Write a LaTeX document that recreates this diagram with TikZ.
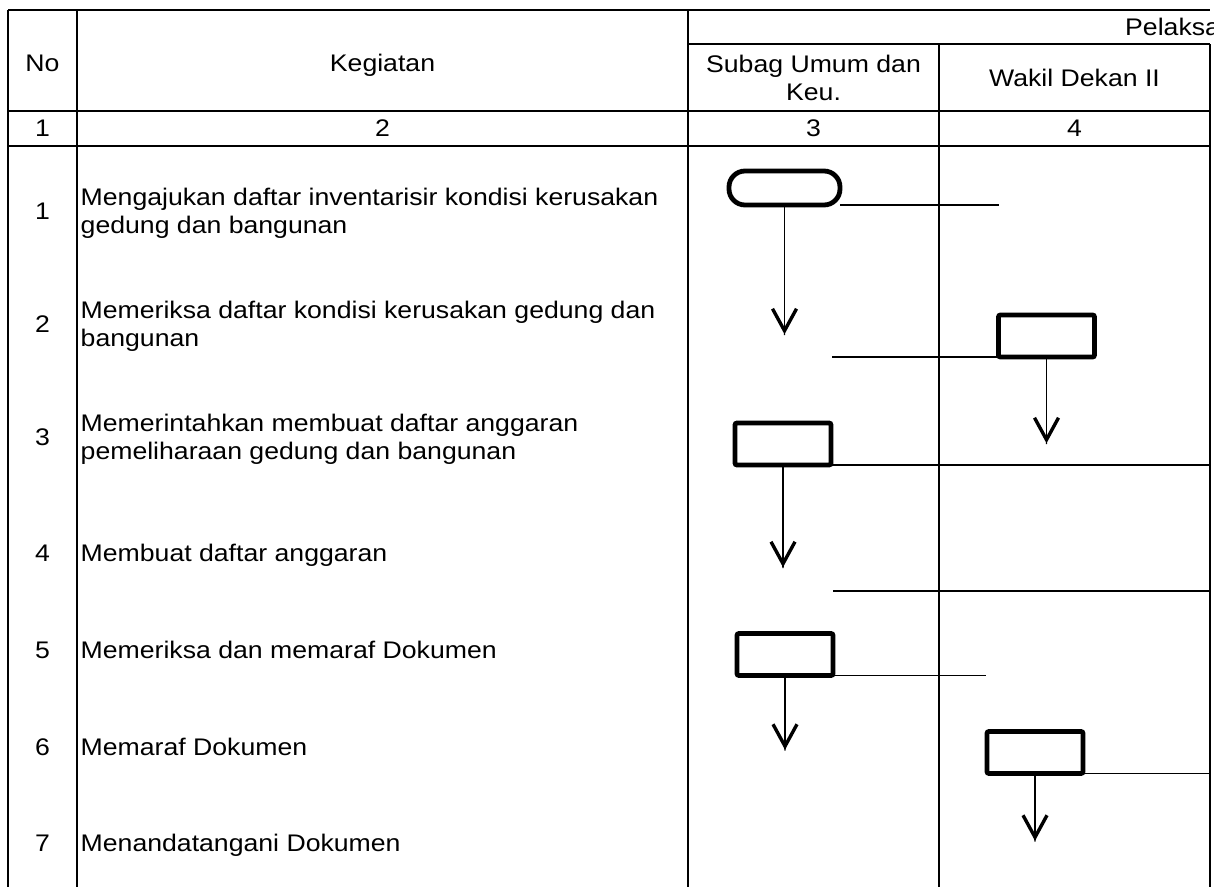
\documentclass[tikz,border=0pt]{standalone}
\usepackage{fontspec}
\setmainfont{Liberation Sans}[FakeStretch=1.11]
\usetikzlibrary{arrows.meta}
\usetikzlibrary{positioning}
\tikzset{
  grid/.style={line width=1.6pt},
  txt/.style={inner sep=0pt,font=\fontsize{24}{28}\selectfont},
  task/.style={rectangle,draw,line width=4.8pt,rounded corners=2pt,
    minimum width=96pt,minimum height=42pt,inner sep=0pt,outer sep=0pt},
  terminal/.style={rectangle,draw,line width=4.8pt,rounded corners=16pt,
    minimum width=111pt,minimum height=34pt,inner sep=0pt,outer sep=0pt},
  link/.style={line width=1.4pt},
  flow/.style={line width=1.4pt,
    -{Straight Barb[length=22pt,width=24pt,line width=3.4pt]Butt Cap}}
}

\begin{document}
\begin{tikzpicture}[x=1pt,y=-1pt]
  \useasboundingbox (0,0) rectangle (1215,886);
  % table
  \draw[grid] (8,10) -- (1210,10);
  \draw[grid] (688,44) -- (1210,44);
  \draw[grid] (8,111) -- (1210,111);
  \draw[grid] (8,146) -- (1210,146);
  \foreach \x in {8,77,688}
    \draw[grid] (\x,10) -- (\x,890);
  \draw[grid] (939,44) -- (939,890);
  \draw[grid] (1210,44) -- (1210,890);
  % header
  \node[txt,anchor=base] (no) at (42.5,71) {No};
  \node[txt,anchor=base] (kegiatan) at (382.5,71) {Kegiatan};
  \begin{scope}
    \clip (688,10) rectangle (1213,44);
    \node[txt,anchor=base west] (pelaksana) at (1125,35) {Pelaksa};
  \end{scope}
  \node[txt,anchor=base,align=center] (subag) at (813.5,100) {Subag Umum dan\\Keu.};
  \node[txt,anchor=base] (wadek) at (1074.5,86) {Wakil Dekan II};
  \node[txt,anchor=base] (h1) at (42.5,136.7) {1};
  \node[txt,anchor=base] (h2) at (382.5,136.7) {2};
  \node[txt,anchor=base] (h3) at (813.5,136.7) {3};
  \node[txt,anchor=base] (h4) at (1074.5,136.7) {4};
  % rows
  \node[txt,anchor=base] (n1) at (42.5,219.7) {1};
  \node[txt,anchor=base west,align=left] (k1) at (80.5,233.6)
    {Mengajukan daftar inventarisir kondisi kerusakan\\gedung dan bangunan};
  \node[txt,anchor=base] (n2) at (42.5,332.7) {2};
  \node[txt,anchor=base west,align=left] (k2) at (80.5,346.6)
    {Memeriksa daftar kondisi kerusakan gedung dan\\bangunan};
  \node[txt,anchor=base] (n3) at (42.5,445.7) {3};
  \node[txt,anchor=base west,align=left] (k3) at (80.5,459.6)
    {Memerintahkan membuat daftar anggaran\\pemeliharaan gedung dan bangunan};
  \node[txt,anchor=base] (n4) at (42.5,561.7) {4};
  \node[txt,anchor=base west] (k4) at (80.5,561.7) {Membuat daftar anggaran};
  \node[txt,anchor=base] (n5) at (42.5,658.7) {5};
  \node[txt,anchor=base west] (k5) at (80.5,658.7) {Memeriksa dan memaraf Dokumen};
  \node[txt,anchor=base] (n6) at (42.5,755.7) {6};
  \node[txt,anchor=base west] (k6) at (80.5,755.7) {Memaraf Dokumen};
  \node[txt,anchor=base] (n7) at (42.5,851.7) {7};
  \node[txt,anchor=base west] (k7) at (80.5,851.7) {Menandatangani Dokumen};
  % flow
  \node[terminal] (start) at (784.5,188) {};
  \coordinate[below=130pt of start] (a1);
  \coordinate (e1) at (999,205);
  \draw[flow] (start) -- (a1);
  \draw[link] (start.south east) -- (e1);

  \node[task] (b2) at (1046.5,336) {};
  \coordinate (e2) at (832,357);
  \coordinate[below=87pt of b2] (a2);
  \draw[link] (e2) -- (b2.south west);
  \draw[flow] (b2) -- (a2);

  \node[task] (b3) at (783,444) {};
  \coordinate (e3) at (1210,465);
  \coordinate[below=103pt of b3] (a3);
  \draw[link] (b3.south east) -- (e3);
  \draw[flow] (b3) -- (a3);

  \coordinate (e4a) at (833,591);
  \coordinate (e4b) at (1210,591);
  \draw[link] (e4a) -- (e4b);

  \node[task] (b5) at (785,654.5) {};
  \coordinate (e5) at (986,675.5);
  \coordinate[below=75pt of b5] (a5);
  \draw[link] (b5.south east) -- (e5);
  \draw[flow] (b5) -- (a5);

  \node[task] (b6) at (1035,752.5) {};
  \coordinate (e6) at (1210,773.5);
  \coordinate[below=68pt of b6] (a6);
  \draw[link] (b6.south east) -- (e6);
  \draw[flow] (b6) -- (a6);
\end{tikzpicture}
\end{document}
